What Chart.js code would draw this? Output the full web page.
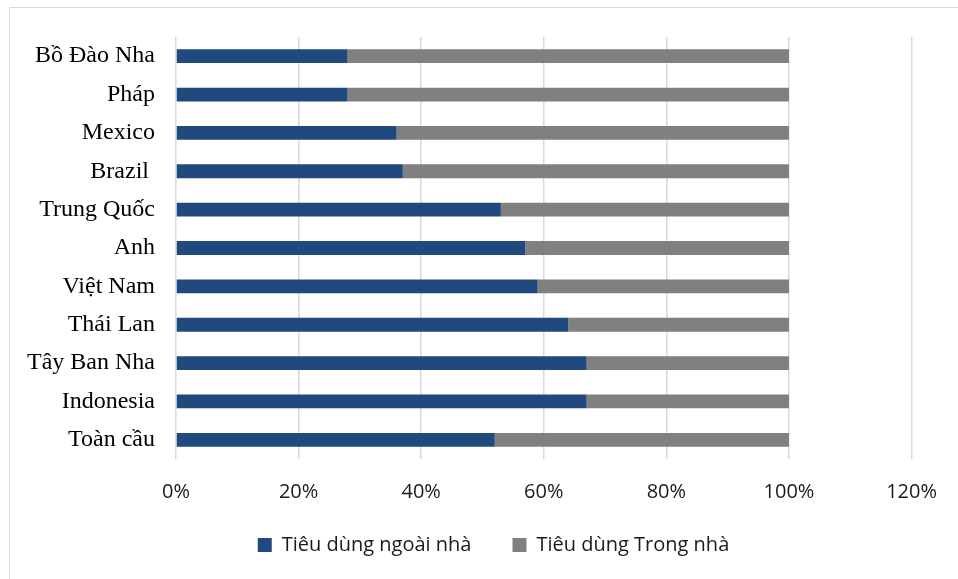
<!DOCTYPE html>
<html lang="vi">
<head>
<meta charset="utf-8">
<title>Tiêu dùng ngoài nhà / trong nhà</title>
<script src="https://cdn.jsdelivr.net/npm/chart.js@4/dist/chart.umd.min.js"></script>
<style>
  html, body { margin: 0; padding: 0; background: #fff; overflow: hidden; }
  #wrap { position: relative; width: 958px; height: 579px; }
  #frame {
    position: absolute; left: 9px; top: 7px; width: 1000px; height: 600px;
    border-left: 1px solid #d9d9d9; border-top: 1px solid #d9d9d9;
  }
  canvas { position: absolute; left: 0; top: 0; }
</style>
</head>
<body>
<div id="wrap">
  <div id="frame"></div>
  <canvas id="chart" width="958" height="579"></canvas>
</div>
<script>
// countries, top to bottom
const countries = ['Bồ Đào Nha', 'Pháp', 'Mexico', 'Brazil ', 'Trung Quốc', 'Anh',
                   'Việt Nam', 'Thái Lan', 'Tây Ban Nha', 'Indonesia', 'Toàn cầu'];
// share of consumption (%)
const outsideHome = [28, 28, 36, 37, 53, 57, 59, 64, 67, 67, 52];
const insideHome  = [72, 72, 64, 63, 47, 43, 41, 36, 33, 33, 48];
const seriesNames = ['Tiêu dùng ngoài nhà', 'Tiêu dùng Trong nhà'];
const xTicks = [0, 20, 40, 60, 80, 100, 120];

const navy = '#20497d';
const grey = '#808080';
const sansFont = "'Open Sans', 'Noto Sans', sans-serif";

// nudge the legend box after layout so it sits under the plot
const legendShift = {
    id: 'legendShift',
    afterLayout(chart) {
        const lg = chart.legend;
        if (!lg) return;
        const dx = 27, dy = -14;
        lg.left += dx; lg.right += dx;
        lg.top += dy; lg.bottom += dy;
    }
};

document.addEventListener('DOMContentLoaded', function () {
    const ctx = document.getElementById('chart').getContext('2d');

    new Chart(ctx, {
        type: 'bar',
        data: {
            labels: countries,
            datasets: [{
                label: seriesNames[0],
                data: outsideHome,
                backgroundColor: navy,
                borderWidth: 0,
                categoryPercentage: 1,
                barPercentage: 0.36
            }, {
                label: seriesNames[1],
                data: insideHome,
                backgroundColor: grey,
                borderWidth: 0,
                categoryPercentage: 1,
                barPercentage: 0.36
            }]
        },
        plugins: [legendShift],
        options: {
            indexAxis: 'y',
            responsive: false,
            animation: false,
            layout: {
                padding: { left: 20, right: 45, top: 37, bottom: 0 }
            },
            scales: {
                x: {
                    stacked: true,
                    min: 0,
                    max: 120,
                    afterBuildTicks: function (scale) {
                        scale.ticks = xTicks.map(v => ({ value: v }));
                    },
                    afterFit: function (scale) {
                        scale.height = 49;
                    },
                    grid: {
                        color: '#d9d9d9',
                        lineWidth: 1.5,
                        drawTicks: false
                    },
                    border: { display: false },
                    ticks: {
                        padding: 21,
                        color: '#1a1a1a',
                        font: { family: sansFont, size: 20 },
                        callback: function (value) {
                            return value + '%';
                        }
                    }
                },
                y: {
                    stacked: true,
                    afterFit: function (scale) {
                        scale.width = 156;
                    },
                    grid: { display: false, drawTicks: false },
                    border: { display: false },
                    ticks: {
                        padding: 21,
                        color: '#000',
                        font: { family: "'Liberation Serif', 'DejaVu Serif', serif", size: 24 }
                    }
                }
            },
            plugins: {
                legend: {
                    position: 'bottom',
                    labels: {
                        boxWidth: 14,
                        boxHeight: 14,
                        padding: 41,
                        color: '#1a1a1a',
                        font: { family: sansFont, size: 20 }
                    }
                },
                tooltip: { enabled: false }
            }
        }
    });
});
</script>
</body>
</html>
